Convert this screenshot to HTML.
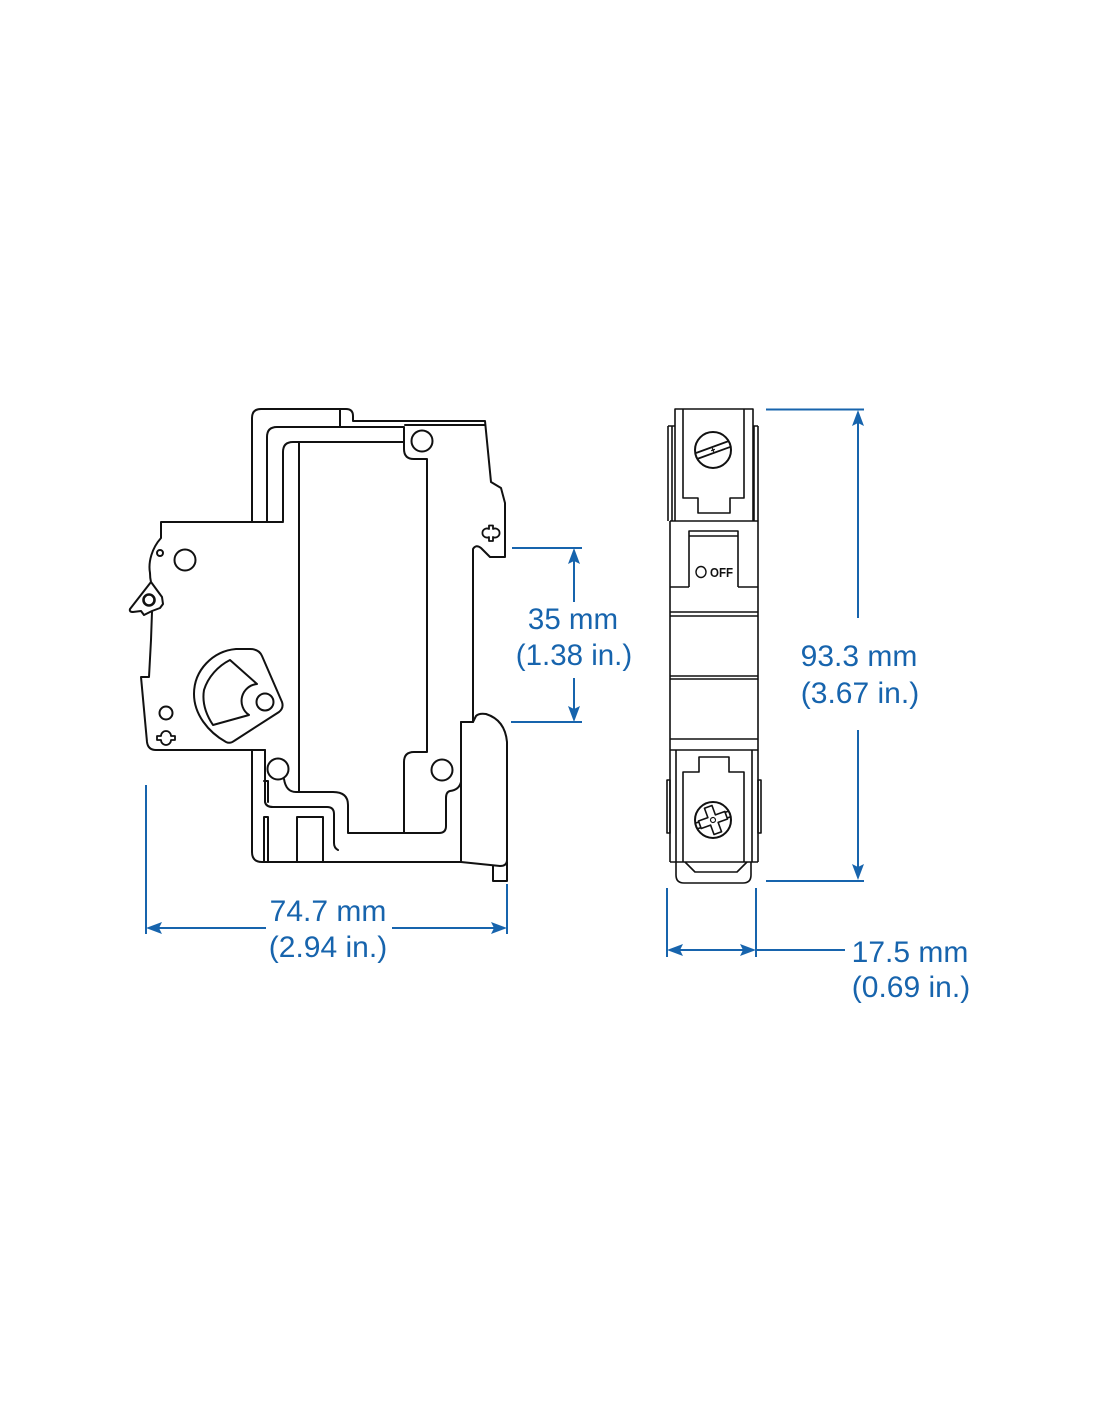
<!DOCTYPE html>
<html>
<head>
<meta charset="utf-8">
<style>
html,body{margin:0;padding:0;background:#fff;}
body{width:1100px;height:1422px;overflow:hidden;position:relative;}
svg{position:absolute;left:0;top:0;}
text{font-family:"Liberation Sans",Arial,sans-serif;}
</style>
</head>
<body>
<svg width="1100" height="1422" viewBox="0 0 1100 1422" xmlns="http://www.w3.org/2000/svg">
<rect width="1100" height="1422" fill="#fff"/>

<!-- LEFT (side view) -->
<g fill="none" stroke="#111" stroke-width="2" stroke-linejoin="round" stroke-linecap="round">
  <!-- outer contour top + right edge -->
  <path d="M252,521 L252,418 Q252,409 261,409 L346,409 Q353,409 353,416 L353,421 L485,421 L491,482 L501,488 L505,503 L505,557 L490,557 L481,548 Q476,544 473,549 L473,722 L461,722"/>
  <path d="M405,425 L485,425"/>
  <path d="M340,409 L340,427"/>
  <!-- second contour -->
  <path d="M267,521 L267,437 Q267,427 277,427 L404,427 L404,449 Q404,459 414,459 L427,459 L427,752 L414,752 Q404,752 404,762 L404,833"/>
  <!-- third contour -->
  <path d="M283,521 L283,452 Q283,442 293,442 L404,442"/>
  <!-- inner left line -->
  <path d="M299,442 L299,792"/>
  <circle cx="422" cy="441" r="10.5"/>

  <!-- handle body -->
  <path d="M283,522 L161,522 L161,538 C152,548 148,562 150,573 Q150,578 151,582 L130,609 Q129,612 133,612 L141,611 L144,615 L152,611 L160,608 L163,604 L162,597 L151,582 M152,612 L151,640 L149,677 L141,677 L147,742 Q148,750 156,750 L265,750"/>
  <circle cx="149" cy="600" r="5.5" stroke-width="2.6"/>
  <circle cx="160" cy="553" r="3"/>
  <circle cx="185" cy="560" r="10.5"/>
  <circle cx="166" cy="713" r="6.5"/>
  <path d="M161,736 A5 5 0 1 1 171,736 L175,736 L175,740 L171,740 A5 5 0 1 1 161,740 L157,740 L157,736 Z" stroke-width="1.8"/>
  <!-- cam -->
  <path d="M236,649 C213,651 194,670 194,694 C194,714 208,732 226,742 Q230,744 234,741 L279,712 Q284,708 282,702 L262,656 Q259,649 250,649 Z"/>
  <path d="M230,660 L257,684 A17 17 0 0 0 249,715 L213,725 C205,713 202,702 204,690 C208,677 218,666 230,660 Z"/>
  <circle cx="265" cy="702" r="8.5"/>
  <!-- keyhole vertical -->
  <path d="M489,529 L489,525.5 L493,525.5 L493,529 A4.5 4.5 0 1 1 493,537 L493,541 L489,541 L489,537 A4.5 4.5 0 1 1 489,529 Z" stroke-width="1.8"/>

  <!-- bottom area -->
  <path d="M252,750 L252,852 Q252,862 262,862 L461,862"/>
  <path d="M265,750 L265,802 Q266,807 273,807 L327,807 Q334,807 334,814 L334,843 Q334,848 338,850"/>
  <path d="M268,781 L268,802 M264,781 L268,781"/>
  <circle cx="278" cy="769" r="10.5"/>
  <path d="M284,779 Q286,792 296,792 L333,792 Q348,792 348,805 L348,833 L439,833 Q446,833 446,826 L446,798 Q446,792 450,791 Q459,790 461,782"/>
  <circle cx="442" cy="770" r="10.5"/>
  <path d="M264,817 L264,862 M268,817 L268,862 M264,817 L268,817"/>
  <path d="M297,862 L297,817 L323,817 L323,862"/>
  <!-- DIN clip / right box -->
  <path d="M461,722 L461,862"/>
  <path d="M473,722 L476,716 Q479,713 486,714 Q505,720 507,742 L507,860 Q507,866 500,866 L461,862"/>
  <path d="M493,866 L493,881 L507,881 L507,862"/>
</g>

<!-- RIGHT (front view) -->
<g fill="none" stroke="#111" stroke-width="1.6" stroke-linejoin="round">
  <path d="M675,521 L675,409 L753,409 L753,521"/>
  <path d="M683,409 L683,498 L698,498 L698,513 L730,513 L730,498 L744,498 L744,409"/>
  <path d="M668,426 L668,521 M672,426 L672,521 M668,426 L675,426"/>
  <path d="M754,426 L754,521 M758,426 L758,521 M753,426 L758,426"/>
  <path d="M670,521 L758,521"/>
  <path d="M670,521 L670,862 M758,521 L758,862"/>
  <path d="M689,587 L689,531 L738,531 L738,587"/>
  <path d="M689,536 L738,536"/>
  <path d="M670,587 L689,587 M738,587 L758,587"/>
  <path d="M670,612 L758,612 M670,616 L758,616"/>
  <path d="M670,676 L758,676 M670,679 L758,679"/>
  <path d="M670,739 L758,739 M670,750 L758,750"/>
  <path d="M676,750 L676,862 M752,750 L752,862"/>
  <path d="M683,862 L683,772 L699,772 L699,757 L729,757 L729,772 L744,772 L744,862"/>
  <rect x="667" y="780" width="3" height="53"/>
  <rect x="758" y="780" width="3" height="53"/>
  <path d="M670,862 L758,862"/>
  <path d="M676,862 L676,875 Q676,883 684,883 L743,883 Q751,883 751,875 L751,862"/>
  <path d="M685,862 L695,872 L737,872 L747,862"/>
  <!-- top screw -->
  <circle cx="713" cy="450" r="18" stroke-width="2"/>
  <g transform="rotate(-20 713 450)">
    <path d="M696,447 L731,447 M696,453 L731,453" stroke-width="1.8"/>
    <path d="M711,450 L715,450 M713,448 L713,452" stroke-width="1.2"/>
  </g>
  <!-- bottom screw -->
  <circle cx="713" cy="820" r="18" stroke-width="2"/>
  <g transform="rotate(-20 713 820)">
    <path d="M696,817 L731,817 M696,823 L731,823" stroke-width="1.6"/>
    <path d="M709,806 L717,806 L717,816 L727,816 L727,824 L717,824 L717,834 L709,834 L709,824 L699,824 L699,816 L709,816 Z" fill="#fff" stroke-width="1.6"/>
    <circle cx="713" cy="820" r="2.5" stroke-width="1.2"/>
  </g>
  <ellipse cx="701" cy="572" rx="5" ry="5.5" stroke-width="1.4"/>
</g>
<text x="710" y="577" font-size="13" font-weight="bold" fill="#111" textLength="23" lengthAdjust="spacingAndGlyphs">OFF</text>

<!-- DIMENSIONS -->
<g stroke="#1764ad" stroke-width="2" fill="none">
  <!-- 35 mm -->
  <path d="M512,548 L582,548 M511,722 L582,722"/>
  <path d="M574,552 L574,602 M574,678 L574,718"/>
  <!-- 93.3 mm -->
  <path d="M766,409.5 L864,409.5 M766,881 L864,881"/>
  <path d="M858,414 L858,618 M858,730 L858,876"/>
  <!-- 74.7 mm -->
  <path d="M146,785 L146,934 M507,884 L507,934"/>
  <path d="M150,928 L266,928 M392,928 L503,928"/>
  <!-- 17.5 mm -->
  <path d="M667,888 L667,957 M756,888 L756,957"/>
  <path d="M671,950 L752,950 M756,950 L845,950"/>
</g>
<g fill="#1764ad">
  <path d="M574,548 L568,564 L574,561 L580,564 Z"/>
  <path d="M574,722 L568,706 L574,709 L580,706 Z"/>
  <path d="M858,410 L852,426 L858,423 L864,426 Z"/>
  <path d="M858,880 L852,864 L858,867 L864,864 Z"/>
  <path d="M146,928 L162,922 L159,928 L162,934 Z"/>
  <path d="M507,928 L491,922 L494,928 L491,934 Z"/>
  <path d="M667,950 L683,944 L680,950 L683,956 Z"/>
  <path d="M756,950 L740,944 L743,950 L740,956 Z"/>
</g>
<g fill="#1764ad" text-anchor="middle">
  <text x="573" y="629" font-size="29.5">35 mm</text>
  <text x="574" y="665" font-size="29.5">(1.38 in.)</text>
  <text x="859" y="666" font-size="30">93.3 mm</text>
  <text x="860" y="703" font-size="30">(3.67 in.)</text>
  <text x="328" y="921" font-size="30">74.7 mm</text>
  <text x="328" y="957" font-size="30">(2.94 in.)</text>
  <text x="910" y="962" font-size="30">17.5 mm</text>
  <text x="911" y="997" font-size="30">(0.69 in.)</text>
</g>
</svg>
</body>
</html>
